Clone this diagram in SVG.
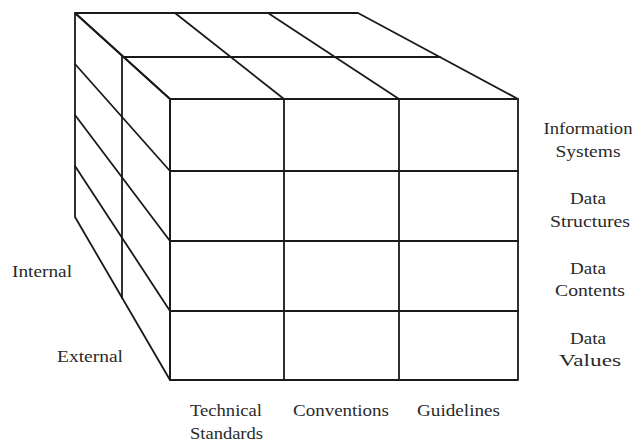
<svg xmlns="http://www.w3.org/2000/svg" width="637" height="443" viewBox="0 0 637 443">
<style>
.ln{fill:none;stroke:#1a1a1a;stroke-width:1.8;stroke-linecap:round;stroke-linejoin:round}
.t{font-size:16px;fill:#2a2a2a}
.m{text-anchor:middle}
</style>
<rect width="637" height="443" fill="#fff"/>
<g id="top-face" class="ln">
<path d="M75,13 L358,13 L518,99 L170,99 Z"/>
<path d="M123,57 L440,57"/>
<path d="M175,13 L284,99 M268,13 L399,99"/>
</g>
<g id="left-face" class="ln">
<path d="M75,13 L75,217 L170,380 L170,99 Z"/>
<path d="M122,57 L122,298"/>
<path d="M75,64 L170,171 M75,115 L170,241 M75,166 L170,311"/>
</g>
<g id="front-face" class="ln">
<rect x="170" y="99" width="348" height="281"/>
<path d="M284,99 L284,380 M399,99 L399,380"/>
<path d="M170,171 L518,171 M170,241 L518,241 M170,311 L518,311"/>
</g>
<g font-family="Liberation Serif, Times New Roman, serif">
<g id="row-labels" class="t m">
<text x="588" y="134" textLength="89" lengthAdjust="spacingAndGlyphs">Information</text>
<text x="588" y="157" textLength="65" lengthAdjust="spacingAndGlyphs">Systems</text>
<text x="588" y="204" textLength="36" lengthAdjust="spacingAndGlyphs">Data</text>
<text x="590" y="227" textLength="80" lengthAdjust="spacingAndGlyphs">Structures</text>
<text x="588" y="274" textLength="36" lengthAdjust="spacingAndGlyphs">Data</text>
<text x="590" y="296" textLength="70" lengthAdjust="spacingAndGlyphs">Contents</text>
<text x="588" y="344" textLength="36" lengthAdjust="spacingAndGlyphs">Data</text>
<text x="590" y="366" textLength="62" lengthAdjust="spacingAndGlyphs">Values</text>
</g>
<g id="column-labels" class="t">
<text x="190" y="416" textLength="72" lengthAdjust="spacingAndGlyphs">Technical</text>
<text x="190" y="439" textLength="73" lengthAdjust="spacingAndGlyphs">Standards</text>
<text x="293" y="416" textLength="96" lengthAdjust="spacingAndGlyphs">Conventions</text>
<text x="417" y="416" textLength="83" lengthAdjust="spacingAndGlyphs">Guidelines</text>
</g>
<g id="depth-labels" class="t">
<text x="12" y="277" textLength="60" lengthAdjust="spacingAndGlyphs">Internal</text>
<text x="57" y="362" textLength="66" lengthAdjust="spacingAndGlyphs">External</text>
</g>
</g>
</svg>
